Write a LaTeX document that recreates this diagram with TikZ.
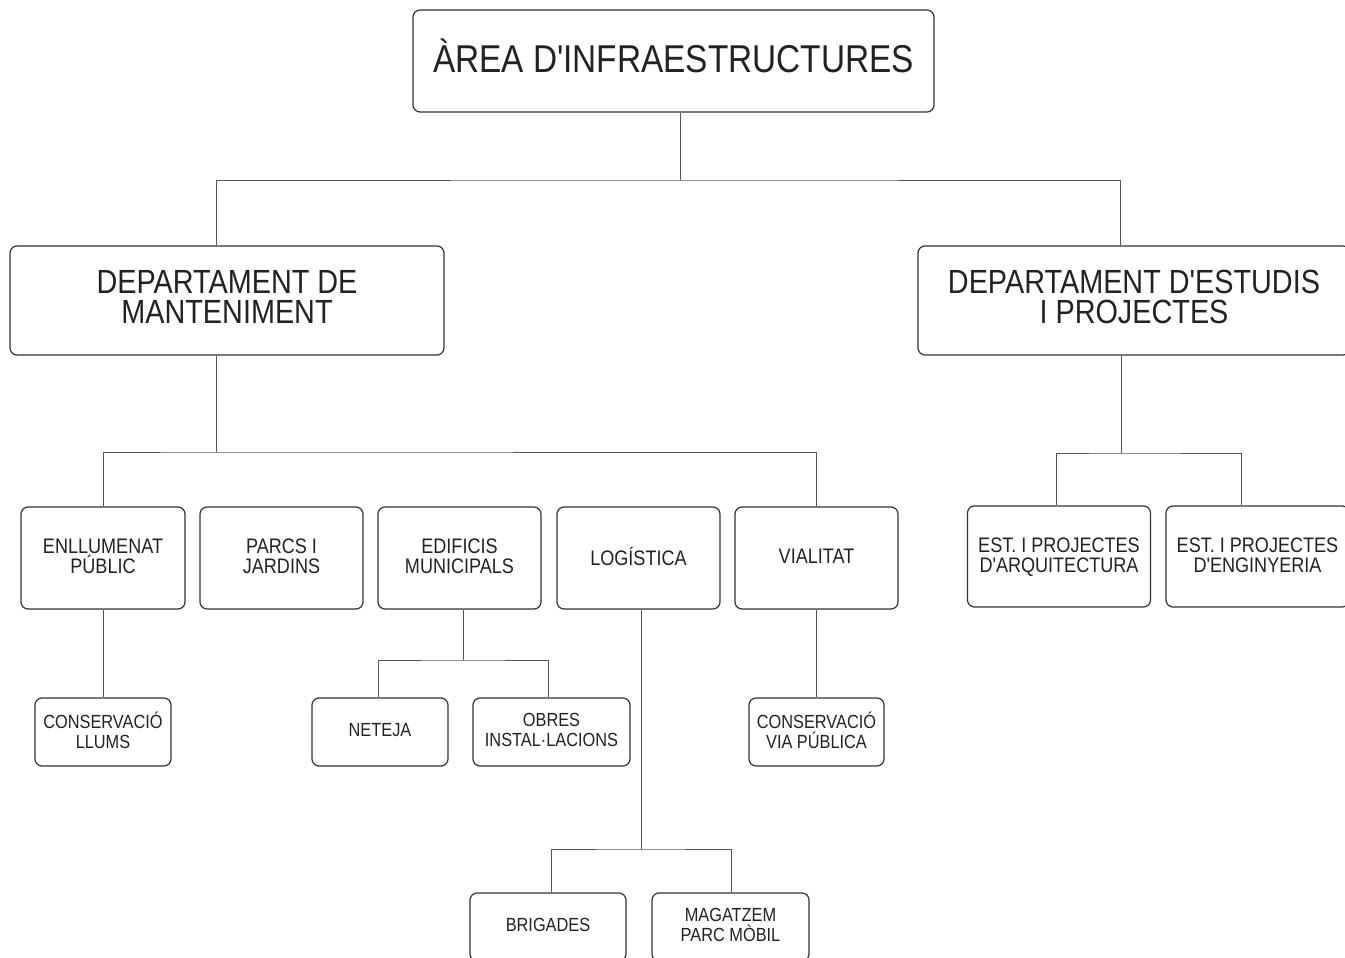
\documentclass[tikz,border=0pt]{standalone}
\usepackage{fontspec}
\newfontfamily\nfont{Liberation Sans}[FakeStretch=0.86,Ligatures=TeXOff]
\definecolor{boxc}{HTML}{333333}
\definecolor{linec}{HTML}{555555}
\definecolor{txtc}{HTML}{222222}
\begin{document}
\begin{tikzpicture}[x=1pt,y=-1pt,
  box/.style={draw=boxc,line width=1.2pt,rounded corners=7pt,inner sep=0pt,align=center,text=txtc},
  ftitle/.style={font=\nfont\fontsize{38.8}{40}\selectfont,text depth=10pt},
  fdept/.style={font=\nfont\fontsize{33.5}{30}\selectfont,text depth=7pt},
  fmid/.style={font=\nfont\fontsize{21}{20}\selectfont,text depth=3pt},
  fsmall/.style={font=\nfont\fontsize{19}{20}\selectfont,text depth=4pt},
  conn/.style={draw=linec,line width=1pt}]
\useasboundingbox (0,0) rectangle (1345,958);
\fill[white] (0,0) rectangle (1345,958);
\clip (0,0) rectangle (1345,958);
% nodes
\node[box,ftitle,minimum width=521pt,minimum height=102pt] (title) at (673.5,61) {ÀREA D'INFRAESTRUCTURES};
\node[box,fdept,minimum width=434pt,minimum height=109pt] (dm) at (227,300.5) {DEPARTAMENT DE\\MANTENIMENT};
\node[box,fdept,minimum width=432pt,minimum height=109pt] (de) at (1134,300.5) {DEPARTAMENT D'ESTUDIS\\I PROJECTES};
\node[box,fmid,minimum width=164pt,minimum height=102pt] (en) at (103,558) {ENLLUMENAT\\PÚBLIC};
\node[box,fmid,minimum width=163pt,minimum height=102pt] (pj) at (281.5,558) {PARCS I\\JARDINS};
\node[box,fmid,minimum width=163pt,minimum height=102pt] (ed) at (459.5,558) {EDIFICIS\\MUNICIPALS};
\node[box,fmid,minimum width=163pt,minimum height=102pt] (lo) at (638.5,558) {LOGÍSTICA};
\node[box,fmid,minimum width=163pt,minimum height=102pt] (vi) at (816.5,558) {VIALITAT};
\node[box,fsmall,minimum width=136pt,minimum height=68pt] (cl) at (103,732) {CONSERVACIÓ\\LLUMS};
\node[box,fsmall,minimum width=136pt,minimum height=68pt] (ne) at (380,732) {NETEJA};
\node[box,fsmall,minimum width=157pt,minimum height=68pt] (ob) at (551.5,732) {OBRES\\INSTAL·LACIONS};
\node[box,fsmall,minimum width=135pt,minimum height=68pt] (cv) at (816.5,732) {CONSERVACIÓ\\VIA PÚBLICA};
\node[box,fsmall,minimum width=156pt,minimum height=68pt] (br) at (548,927) {BRIGADES};
\node[box,fsmall,minimum width=157pt,minimum height=68pt] (ma) at (730.5,927) {MAGATZEM\\PARC MÒBIL};
\node[box,fmid,minimum width=183pt,minimum height=101pt] (ar) at (1059,556.5) {EST. I PROJECTES\\D'ARQUITECTURA};
\node[box,fmid,minimum width=183pt,minimum height=101pt] (eg) at (1257.5,556.5) {EST. I PROJECTES\\D'ENGINYERIA};
% junctions
\coordinate (j1) at (680,180);
\coordinate (j2) at (216,452);
\coordinate (j3) at (1121,453);
\coordinate (j4) at (463,660);
\coordinate (j5) at (641,849);
% connectors
\draw[conn] (title.south -| j1) -- (j1);
\draw[conn] (dm.north -| 216,0) |- (j1) -| (de.north -| 1120,0);
\draw[conn] (dm.south -| j2) -- (j2);
\draw[conn] (en.north -| 103,0) |- (j2) -| (vi.north -| 816,0);
\draw[conn] (pj.north -| 287,0) -- (pj.north -| 287,452);
\draw[conn] (ed.north -| 463,0) -- (ed.north -| 463,452);
\draw[conn] (lo.north -| 641,0) -- (lo.north -| 641,452);
\draw[conn] (de.south -| j3) -- (j3);
\draw[conn] (ar.north -| 1056,0) |- (j3) -| (eg.north -| 1241,0);
\draw[conn] (en.south) -- (cl.north);
\draw[conn] (vi.south -| 816,0) -- (cv.north -| 816,0);
\draw[conn] (ed.south -| j4) -- (j4);
\draw[conn] (ne.north -| 378,0) |- (j4) -| (ob.north -| 548,0);
\draw[conn] (lo.south -| j5) -- (j5);
\draw[conn] (br.north -| 551,0) |- (j5) -| (ma.north -| 731,0);
\end{tikzpicture}
\end{document}
